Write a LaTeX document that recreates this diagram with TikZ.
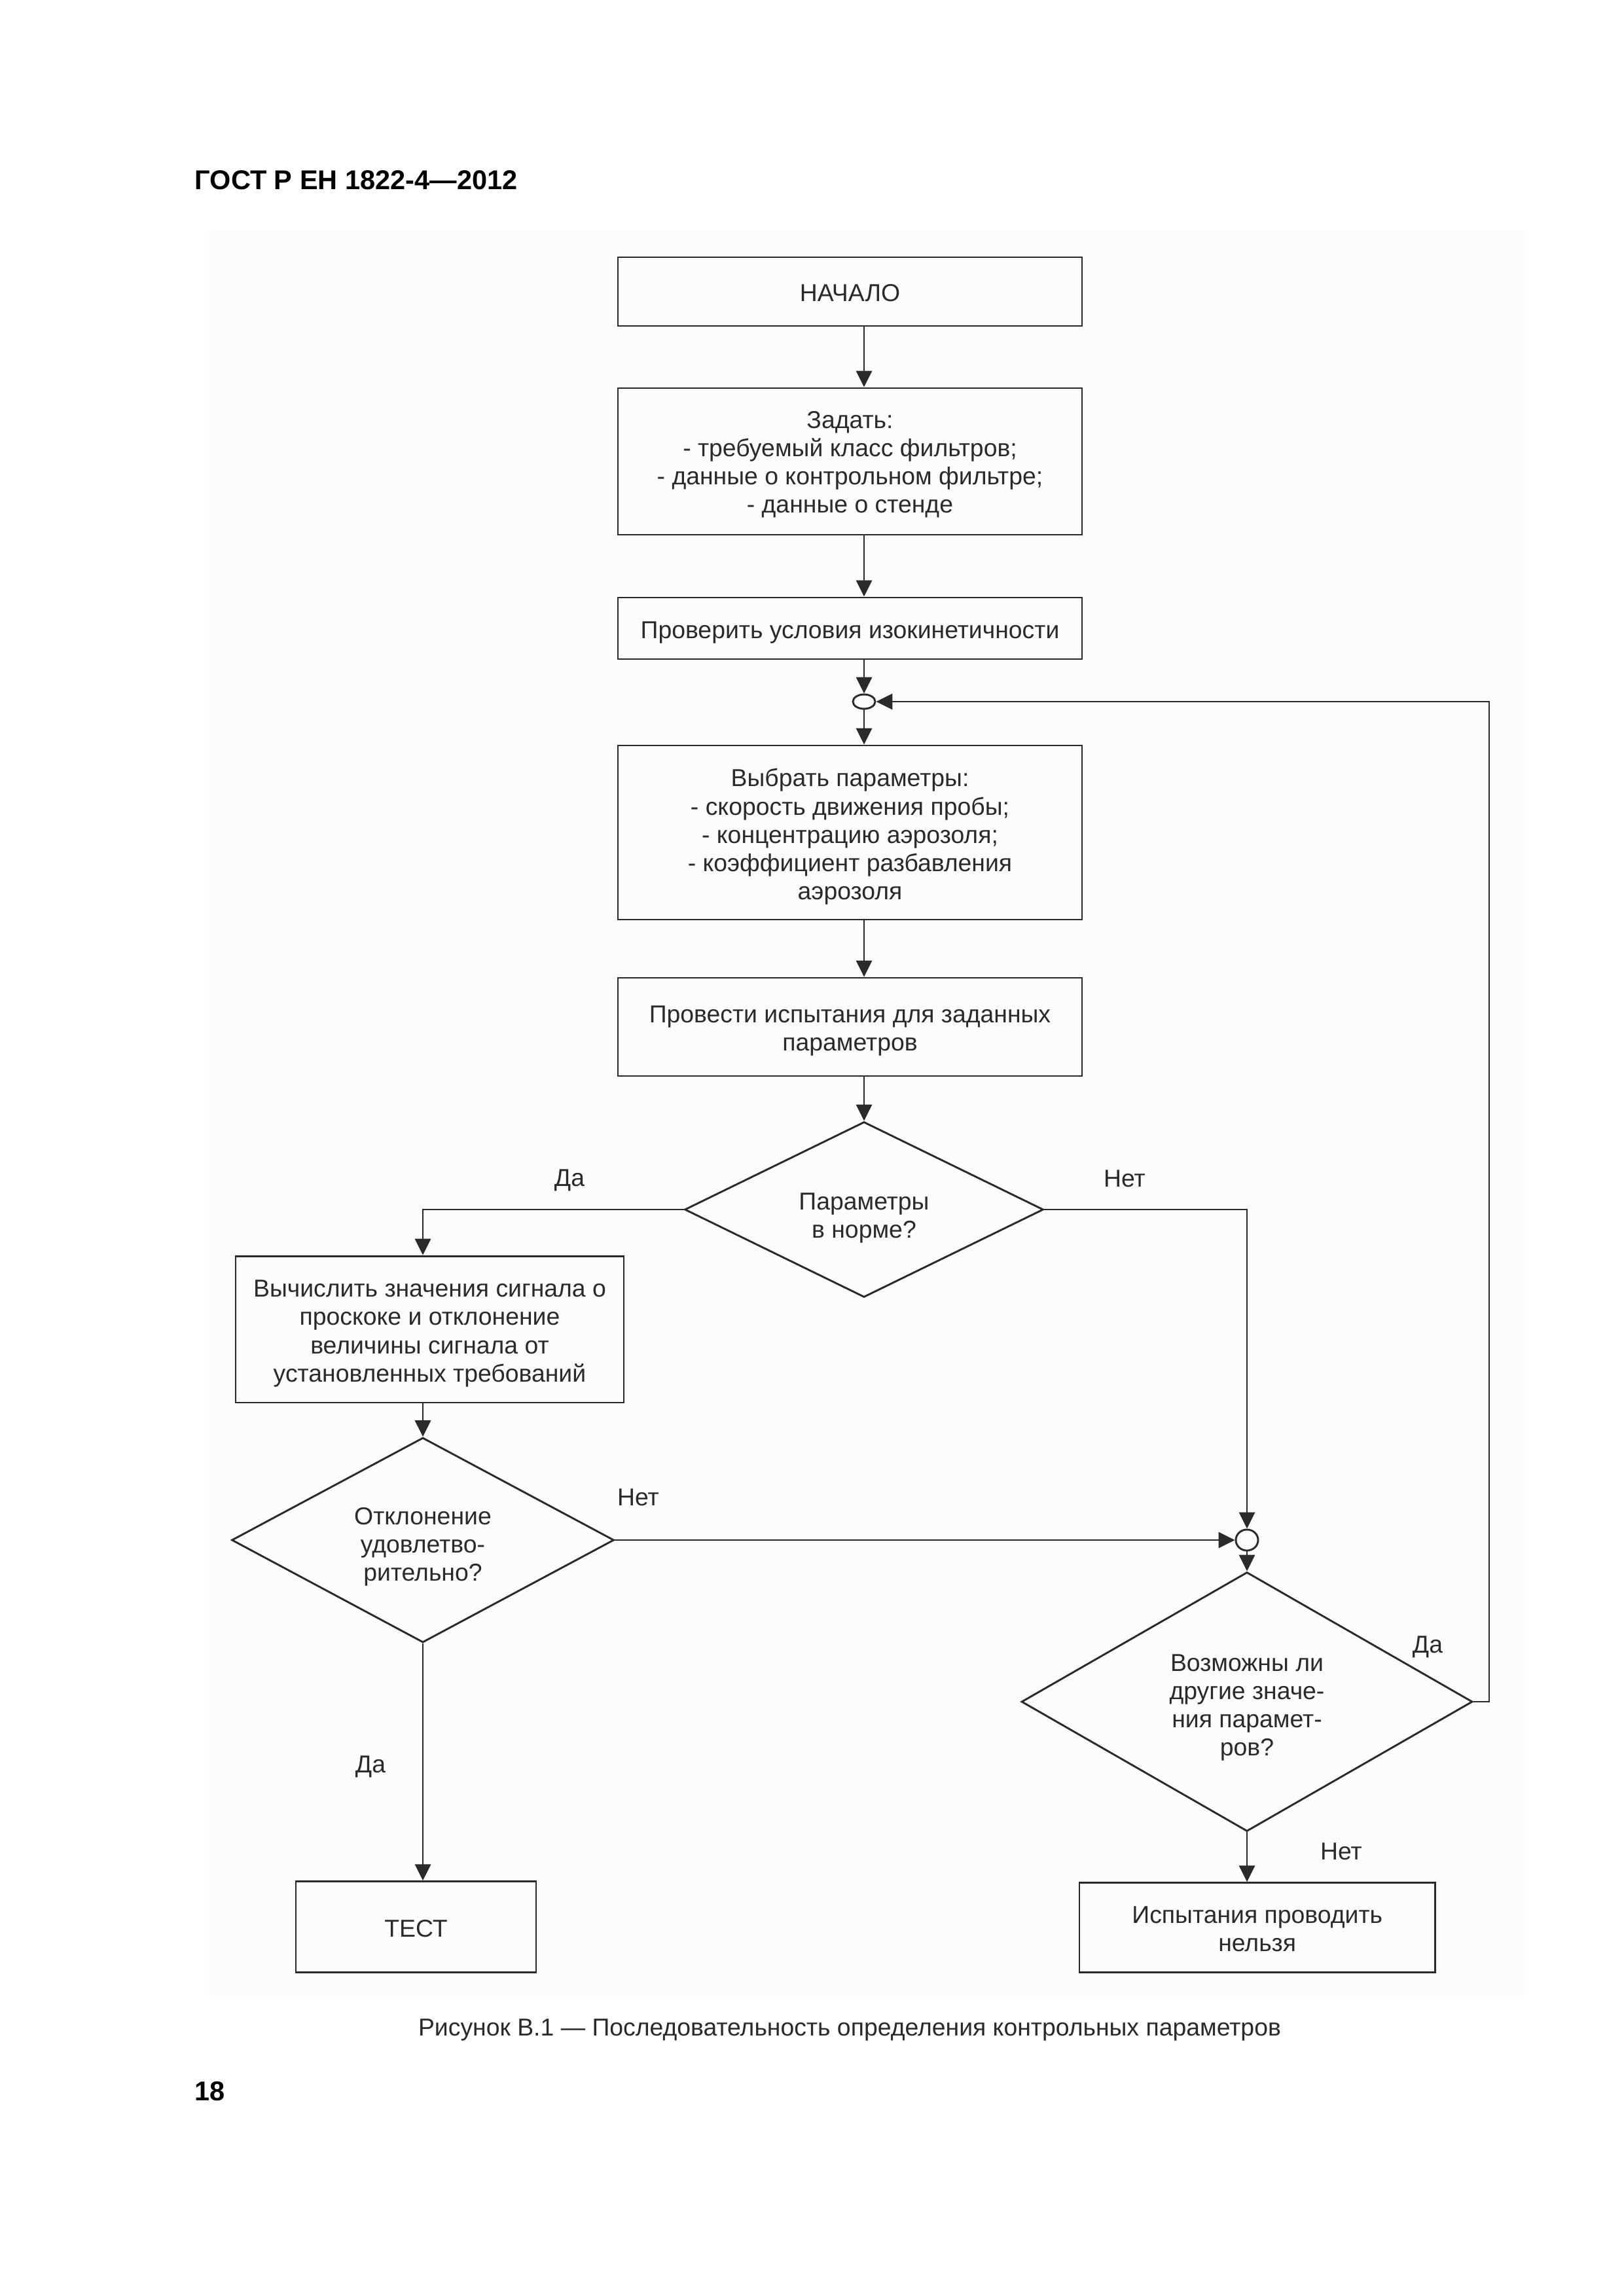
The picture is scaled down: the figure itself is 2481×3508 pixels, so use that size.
\documentclass[tikz,border=0pt]{standalone}
\usepackage{fontspec}
\setmainfont{Liberation Sans}
\usetikzlibrary{arrows.meta,shapes.geometric}
\definecolor{ink}{HTML}{2A2A2A}
\begin{document}
\begin{tikzpicture}[x=0.084667mm,y=-0.084667mm,
  every node/.style={font=\fontsize{9}{10.4}\selectfont, text=ink},
  box/.style={draw=ink, line width=0.7pt, inner sep=0pt},
  dec/.style={diamond, draw=ink, line width=0.7pt, inner sep=0pt},
  txt/.style={inner sep=0pt, align=center},
  junc/.style={ellipse, draw=ink, line width=0.7pt, inner sep=0pt, minimum width=2.88mm},
  arr/.style={draw=ink, line width=0.7pt, -{Triangle[length=6pt, width=5.8pt]}},
  lab/.style={inner sep=0pt}
]
\useasboundingbox (0,0) rectangle (2481,3508);
\fill[white] (0,0) rectangle (2481,3508);
\fill[white!99!black] (318,353) rectangle (2330,3049);

\node[anchor=west, inner sep=0pt, text=black, font=\fontsize{10}{12}\selectfont\bfseries] (hdr) at (297,275) {ГОСТ Р ЕН 1822-4—2012};

% shapes
\node[box, minimum width=60.03mm, minimum height=8.89mm] (start) at (1298.5,445.5) {};
\node[box, minimum width=60.03mm, minimum height=18.97mm] (set) at (1298.5,705) {};
\node[box, minimum width=60.03mm, minimum height=7.96mm] (check) at (1298.5,960) {};
\node[junc, minimum height=1.86mm] (j1) at (1320,1072) {};
\node[box, minimum width=60.03mm, minimum height=22.52mm] (choose) at (1298.5,1272) {};
\node[box, minimum width=60.03mm, minimum height=12.70mm] (run) at (1298.5,1569) {};
\node[dec, minimum width=46.40mm, minimum height=22.69mm] (d1) at (1320,1848) {};
\node[box, minimum width=50.21mm, minimum height=18.96mm] (calc) at (656.5,2031) {};
\node[dec, minimum width=49.45mm, minimum height=26.50mm] (d2) at (646,2353) {};
\node[junc, minimum height=2.71mm] (j2) at (1905,2353) {};
\node[dec, minimum width=58.34mm, minimum height=33.53mm] (d3) at (1905,2600) {};
\node[box, minimum width=31.07mm, minimum height=11.73mm] (test) at (635.5,2944) {};
\node[box, minimum width=46.02mm, minimum height=11.56mm] (stop) at (1920.7,2945) {};
\coordinate (loopx) at (2275,1072);

% texts
\node[txt] (start-t) at ([yshift=-0.2mm]start.center) {НАЧАЛО};
\node[txt] (set-t) at ([yshift=-0.4mm]set.center) {Задать:\\- требуемый класс фильтров;\\- данные о контрольном фильтре;\\- данные о стенде};
\node[txt] (check-t) at ([yshift=-0.55mm]check.center) {Проверить условия изокинетичности};
\node[txt] (choose-t) at ([yshift=-0.55mm]choose.center) {Выбрать параметры:\\- скорость движения пробы;\\- концентрацию аэрозоля;\\- коэффициент разбавления\\аэрозоля};
\node[txt] (run-t) at ([yshift=-0.5mm]run.center) {Провести испытания для заданных\\параметров};
\node[txt] (d1-t) at ([yshift=-1.1mm]d1.center) {Параметры\\в норме?};
\node[txt] (calc-t) at ([yshift=-0.55mm]calc.center) {Вычислить значения сигнала о\\проскоке и отклонение\\величины сигнала от\\установленных требований};
\node[txt] (d2-t) at ([yshift=-0.85mm]d2.center) {Отклонение\\удовлетво-\\рительно?};
\node[txt] (d3-t) at ([yshift=-0.75mm]d3.center) {Возможны ли\\другие значе-\\ния парамет-\\ров?};
\node[txt] (test-t) at ([yshift=-0.2mm]test.center) {ТЕСТ};
\node[txt] (stop-t) at ([yshift=-0.2mm]stop.center) {Испытания проводить\\нельзя};

% connectors
\draw[arr] (start.south -| j1) -- (set.north -| j1);
\draw[arr] (set.south -| j1) -- (check.north -| j1);
\draw[arr] (check.south -| j1) -- (j1.north);
\draw[arr] (j1.south) -- (choose.north -| j1);
\draw[arr] (choose.south -| j1) -- (run.north -| j1);
\draw[arr] (run.south -| d1.north) -- (d1.north);
\draw[arr] (d1.west) -| (d2.north |- calc.north);
\draw[arr] (d1.east) -| (j2.north);
\draw[arr] (calc.south -| d2.north) -- (d2.north);
\draw[arr] (d2.east) -- (j2.west);
\draw[arr] (j2.south) -- (d3.north);
\draw[arr] (d3.east) -- (d3.east -| loopx) -- (loopx) -- (j1.east);
\draw[arr] (d3.south) -- (d3.south |- stop.north);
\draw[arr] (d2.south) -- (d2.south |- test.north);

% branch labels
\node[lab] (l1) at (870,1803) {Да};
\node[lab] (l2) at (1718,1801) {Нет};
\node[lab] (l3) at (975,2288) {Нет};
\node[lab] (l4) at (2181,2516) {Да};
\node[lab] (l5) at (2049,2829) {Нет};
\node[lab] (l6) at (566,2699) {Да};

\node[lab] (cap) at (1298,3101) {Рисунок В.1 — Последовательность определения контрольных параметров};
\node[anchor=west, inner sep=0pt, text=black, font=\fontsize{10}{12}\selectfont\bfseries] (pg) at (297,3195) {18};
\end{tikzpicture}
\end{document}
